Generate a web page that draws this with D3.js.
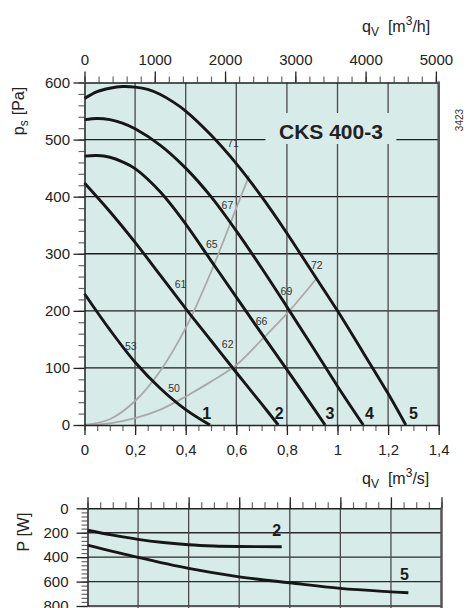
<!DOCTYPE html>
<html><head><meta charset="utf-8">
<script src="https://cdn.jsdelivr.net/npm/d3@7"></script>
<style>
html,body{margin:0;padding:0;background:#fff;}
svg{display:block;font-family:"Liberation Sans",Arial,Helvetica,sans-serif;}
</style></head><body>
<svg id="chart" width="466" height="608"></svg>
<script>
// ---------- data ----------
const qTicks = [0, 0.2, 0.4, 0.6, 0.8, 1, 1.2, 1.4];          // m3/s
const qhTicks = [0, 1000, 2000, 3000, 4000, 5000];             // m3/h
const psTicks = [0, 100, 200, 300, 400, 500, 600];             // Pa
const pTicks = [0, 200, 400, 600, 800];                        // W

// fan curves (q m3/s, ps Pa)
const fan1 = [[0,230],[0.1,167],[0.2,110],[0.3,64],[0.4,27],[0.496,0]];
const fan2 = [[0,424],[0.1,374],[0.2,320],[0.3,262],[0.4,204],[0.5,148],[0.6,92],[0.7,37],[0.766,0]];
const fan3 = [[0,471],[0.05,472],[0.1,469],[0.15,461],[0.2,449],[0.3,408],[0.4,352],[0.5,288],[0.6,224],[0.7,160],[0.8,97],[0.9,33],[0.951,0]];
const fan4 = [[0,535],[0.05,537],[0.1,535],[0.15,529],[0.2,519],[0.3,490],[0.4,450],[0.5,400],[0.6,340],[0.7,275],[0.8,207],[0.9,138],[1.0,68],[1.102,0]];
const fan5 = [[0,572],[0.05,584],[0.1,590],[0.15,593],[0.2,592],[0.25,588],[0.3,579],[0.35,566],[0.4,550],[0.5,508],[0.6,458],[0.7,400],[0.8,336],[0.9,268],[1.0,200],[1.1,128],[1.2,55],[1.27,0]];
const fanNames = ["1","2","3","4","5"];
const fanLabelQ = [0.483, 0.770, 0.970, 1.126, 1.300];
const fanLabelP = [20, 20, 20, 20, 20];

// system curves (grey)
const sysA = [[0,0],[0.1,10],[0.2,42],[0.3,95],[0.4,170],[0.5,268],[0.6,380],[0.651,437]];
const sysB = [[0,0],[0.1,3],[0.2,12],[0.3,27],[0.4,50],[0.5,76],[0.6,105],[0.7,149],[0.806,198],[0.918,257]];

// efficiency labels
const effText = ["71","67","65","61","53","50","62","66","69","72"];
const effQ = [0.587, 0.565, 0.503, 0.380, 0.183, 0.354, 0.566, 0.700, 0.798, 0.918];
const effP = [494, 385, 317, 246, 137, 64, 141, 181, 234, 280];

// power curves (q m3/s, P W)
const pow2 = [[0,180],[0.1,220],[0.2,254],[0.3,280],[0.4,299],[0.5,309],[0.6,313],[0.768,315]];
const pow5 = [[0,301],[0.2,402],[0.4,492],[0.6,561],[0.8,610],[1.0,656],[1.2,684],[1.269,692]];
const powNames = ["2","5"];
const powLabelQ = [0.748, 1.253];
const powLabelP = [183, 540];

const title = "CKS 400-3";
const titleQ = 0.974, titleP = 515;
const docId = "3423";

// ---------- drawing ----------
const svg = d3.select("#chart");
const x = d3.scaleLinear().domain([0, 1.4]).range([84.5, 438.7]);
const y = d3.scaleLinear().domain([0, 600]).range([425, 82.5]);
const xh = d3.scaleLinear().domain([0, 1.4 * 3600]).range([x(0), x(1.4)]);
const x2 = d3.scaleLinear().domain([0, 1.4]).range([87.5, 441.5]);
const y2 = d3.scaleLinear().domain([0, 800]).range([508.3, 606]);

const BG = "#d7ece8";
const comma = d => String(d).replace(".", ",");

// ---- top chart ----
svg.append("rect").attr("x", x(0)).attr("y", y(600))
  .attr("width", x(1.4) - x(0)).attr("height", y(0) - y(600)).attr("fill", BG);

svg.append("g").selectAll("line").data(psTicks.slice(1, -1)).join("line")
  .attr("x1", x(0)).attr("x2", x(1.4)).attr("y1", d => y(d)).attr("y2", d => y(d))
  .attr("stroke", "#1e1e1e").attr("stroke-width", 1.3);
svg.append("g").selectAll("line").data(qTicks.slice(1, -1)).join("line")
  .attr("x1", d => x(d)).attr("x2", d => x(d)).attr("y1", y(600)).attr("y2", y(0))
  .attr("stroke", "#4a4a4a").attr("stroke-width", 1.3);

// title box
const tg = svg.append("g");
tg.append("rect").attr("x", x(titleQ) - 65.5).attr("y", y(titleP) - 18)
  .attr("width", 131).attr("height", 31).attr("fill", BG);
tg.append("text").attr("x", x(titleQ)).attr("y", y(titleP) + 7.5)
  .attr("text-anchor", "middle").attr("font-size", 21).attr("font-weight", "bold")
  .attr("fill", "#222").text(title);

const line = d3.line().x(d => x(d[0])).y(d => y(d[1])).curve(d3.curveCatmullRom.alpha(0.5));
svg.append("g").selectAll("path").data([sysA, sysB]).join("path")
  .attr("d", line).attr("fill", "none").attr("stroke", "#a9a9a9").attr("stroke-width", 1.8);
svg.append("g").selectAll("path").data([fan1, fan2, fan3, fan4, fan5]).join("path")
  .attr("d", line).attr("fill", "none").attr("stroke", "#161616").attr("stroke-width", 2.9);

svg.append("g").selectAll("text").data(effText).join("text")
  .attr("x", (d, i) => x(effQ[i])).attr("y", (d, i) => y(effP[i]))
  .attr("text-anchor", "middle").attr("dy", "0.35em").attr("font-size", 10.5)
  .attr("fill", "#333").text(d => d);

svg.append("g").selectAll("text").data(fanNames).join("text")
  .attr("x", (d, i) => x(fanLabelQ[i])).attr("y", (d, i) => y(fanLabelP[i]))
  .attr("text-anchor", "middle").attr("dy", "0.36em").attr("font-size", 16)
  .attr("font-weight", "bold").attr("fill", "#1a1a1a").text(d => d);

function styleAxis(g, size) {
  g.attr("font-family", null).attr("font-size", size);
  g.selectAll("text").attr("fill", "#222");
  g.select(".domain").attr("stroke", "#222").attr("stroke-width", 1.5);
  g.selectAll(".tick line").attr("stroke", "#222").attr("stroke-width", 1.3);
}
function styleMinor(g) {
  g.select(".domain").remove();
  g.selectAll(".tick line").attr("stroke", "#666").attr("stroke-width", 1.2);
}

// left axis
svg.append("g").attr("transform", `translate(${x(0)},0)`)
  .call(d3.axisLeft(y).tickValues(d3.range(0, 601, 20)).tickSize(6).tickFormat("").tickSizeOuter(0)).call(styleMinor);
svg.append("g").attr("transform", `translate(${x(0)},0)`)
  .call(d3.axisLeft(y).tickValues(psTicks).tickSize(11).tickPadding(3.5).tickSizeOuter(0)).call(g => styleAxis(g, 15));
// bottom axis
svg.append("g").attr("transform", `translate(0,${y(0)})`)
  .call(d3.axisBottom(x).tickValues(d3.range(0, 1.4001, 0.05)).tickSize(6).tickFormat("").tickSizeOuter(0)).call(styleMinor);
svg.append("g").attr("transform", `translate(0,${y(0)})`)
  .call(d3.axisBottom(x).tickValues(qTicks).tickSize(10).tickPadding(9.5).tickFormat(comma).tickSizeOuter(0)).call(g => styleAxis(g, 15));
// top axis (m3/h)
svg.append("g").attr("transform", `translate(0,${y(600)})`)
  .call(d3.axisTop(xh).tickValues(d3.range(0, 5001, 200)).tickSize(6).tickFormat("").tickSizeOuter(0)).call(styleMinor);
svg.append("g").attr("transform", `translate(0,${y(600)})`)
  .call(d3.axisTop(xh).tickValues(qhTicks).tickSize(11).tickPadding(7).tickFormat(d3.format("d")).tickSizeOuter(0)).call(g => styleAxis(g, 15));
// right border
svg.append("line").attr("x1", x(1.4)).attr("x2", x(1.4)).attr("y1", y(600) - 1).attr("y2", y(0))
  .attr("stroke", "#555").attr("stroke-width", 2.5);

// ---- bottom chart ----
svg.append("rect").attr("x", x2(0)).attr("y", y2(0))
  .attr("width", x2(1.4) - x2(0)).attr("height", 608 - y2(0)).attr("fill", BG);
svg.append("g").selectAll("line").data(pTicks.slice(1)).join("line")
  .attr("x1", x2(0)).attr("x2", x2(1.4)).attr("y1", d => y2(d)).attr("y2", d => y2(d))
  .attr("stroke", "#2a2a2a").attr("stroke-width", 1.3);
svg.append("g").selectAll("line").data(qTicks.slice(1, -1)).join("line")
  .attr("x1", d => x2(d)).attr("x2", d => x2(d)).attr("y1", y2(0)).attr("y2", 608)
  .attr("stroke", "#4a4a4a").attr("stroke-width", 1.3);

const line2 = d3.line().x(d => x2(d[0])).y(d => y2(d[1])).curve(d3.curveCatmullRom.alpha(0.5));
svg.append("g").selectAll("path").data([pow2, pow5]).join("path")
  .attr("d", line2).attr("fill", "none").attr("stroke", "#161616").attr("stroke-width", 2.9);
svg.append("g").selectAll("text").data(powNames).join("text")
  .attr("x", (d, i) => x2(powLabelQ[i])).attr("y", (d, i) => y2(powLabelP[i]))
  .attr("text-anchor", "middle").attr("dy", "0.36em").attr("font-size", 16)
  .attr("font-weight", "bold").attr("fill", "#1a1a1a").text(d => d);

svg.append("g").attr("transform", `translate(${x2(0)},0)`)
  .call(d3.axisLeft(y2).tickValues(d3.range(0, 801, 200 / 6)).tickSize(6).tickFormat("").tickSizeOuter(0)).call(styleMinor);
svg.append("g").attr("transform", `translate(${x2(0)},0)`)
  .call(d3.axisLeft(y2).tickValues(pTicks).tickSize(11).tickPadding(8).tickSizeOuter(0)).call(g => styleAxis(g, 15));
svg.append("g").attr("transform", `translate(0,${y2(0)})`)
  .call(d3.axisTop(x2).tickValues(d3.range(0, 1.4001, 0.05)).tickSize(6).tickFormat("").tickSizeOuter(0)).call(styleMinor);
svg.append("g").attr("transform", `translate(0,${y2(0)})`)
  .call(d3.axisTop(x2).tickValues(qTicks).tickSize(11).tickFormat("").tickSizeOuter(0)).call(g => styleAxis(g, 15));
svg.append("line").attr("x1", x2(1.4)).attr("x2", x2(1.4)).attr("y1", y2(0) - 1).attr("y2", 608)
  .attr("stroke", "#555").attr("stroke-width", 2.5);

// ---- axis titles ----
function qLabel(xp, yp, unit) {
  const t = svg.append("text").attr("x", xp).attr("y", yp).attr("font-size", 16).attr("fill", "#222");
  t.append("tspan").text("q");
  t.append("tspan").attr("font-size", 12).attr("dy", 4).text("V");
  t.append("tspan").attr("dy", -4).attr("dx", 9).text("[m");
  t.append("tspan").attr("font-size", 12).attr("dy", -7).text("3");
  t.append("tspan").attr("dy", 7).text(unit + "]");
}
qLabel(362, 32, "/h");
qLabel(362, 483.5, "/s");

const ps = svg.append("text").attr("transform", "translate(24,111) rotate(-90)")
  .attr("text-anchor", "middle").attr("font-size", 16).attr("fill", "#222");
ps.append("tspan").text("p");
ps.append("tspan").attr("font-size", 12).attr("dy", 4).text("s");
ps.append("tspan").attr("dy", -4).attr("dx", 5).text("[Pa]");

svg.append("text").attr("transform", "translate(29,532) rotate(-90)")
  .attr("text-anchor", "middle").attr("font-size", 16).attr("fill", "#222").text("P [W]");

svg.append("text").attr("transform", "translate(463,120) rotate(-90)")
  .attr("text-anchor", "middle").attr("font-size", 10).attr("fill", "#333").text(docId);
</script>
</body></html>
